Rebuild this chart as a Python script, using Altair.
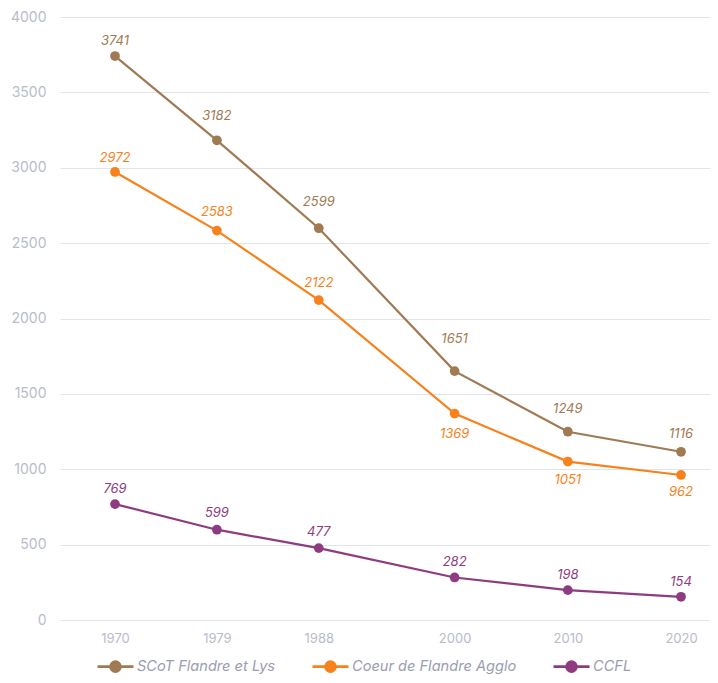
import altair as alt
import pandas as pd

years = [1970, 1979, 1988, 2000, 2010, 2020]
series = ["SCoT Flandre et Lys", "Coeur de Flandre Agglo", "CCFL"]
colors = ["#a07a52", "#f7821b", "#8e3b80"]
scot = [3741, 3182, 2599, 1651, 1249, 1116]
cfa = [2972, 2583, 2122, 1369, 1051, 962]
ccfl = [769, 599, 477, 282, 198, 154]

# vertical offset (px) of each value label from its point
label_dy = {
    series[0]: [-15, -24, -26, -32, -23, -18],
    series[1]: [-14, -19, -17, 20, 18, 17],
    series[2]: [-15, -17, -16, -15, -15, -15],
}

rows = []
for name, vals in [(series[0], scot), (series[1], cfa), (series[2], ccfl)]:
    for y, v, d in zip(years, vals, label_dy[name]):
        rows.append({"year": y, "value": v, "serie": name, "ldy": d})
df = pd.DataFrame(rows)

FONT = "Inter"
cscale = alt.Scale(domain=series, range=colors)
color = alt.Color(
    "serie:N",
    scale=cscale,
    sort=series,
    legend=alt.Legend(
        title=None,
        orient="none",
        legendX=44,
        legendY=638,
        direction="horizontal",
        symbolType="M -1.8 0 L 1.8 0 M -0.5 0 A 0.5 0.5 0 1 1 0.5 0 A 0.5 0.5 0 1 1 -0.5 0 Z",
        symbolSize=400,
        symbolStrokeWidth=2.6,
        labelFont=FONT,
        labelFontStyle="italic",
        labelFontSize=14.6,
        labelColor="#9a9db0",
        labelOffset=10,
        labelLimit=300,
        columnPadding=31,
    ),
)

x = alt.X(
    "year:Q",
    scale=alt.Scale(domain=[1965.14, 2022.56], nice=False, zero=False),
    axis=alt.Axis(
        values=years, format="d", title=None, grid=False, domain=False, ticks=False,
        labelFont=FONT, labelFontSize=13, labelColor="#b8bccb", labelPadding=12,
    ),
)
y = alt.Y(
    "value:Q",
    scale=alt.Scale(domain=[0, 4000], nice=False),
    axis=alt.Axis(
        values=list(range(0, 4001, 500)), format="d", title=None, domain=False, ticks=False,
        gridColor="#e3e4ea", gridWidth=1,
        labelFont=FONT, labelFontSize=14, labelColor="#b8bccb", labelPadding=14,
    ),
)

base = alt.Chart(df)
nolegend = alt.Color("serie:N", scale=cscale, legend=None)
lines = base.mark_line(strokeWidth=2.2).encode(x=x, y=y, color=color)
points = base.mark_circle(size=95, opacity=1).encode(x=x, y=y, color=nolegend)

label_layers = []
for d in sorted(df["ldy"].unique()):
    label_layers.append(
        base.transform_filter(alt.datum.ldy == int(d))
        .mark_text(font=FONT, fontStyle="italic", fontSize=13, dy=int(d))
        .encode(x=x, y=y, text="value:Q", color=nolegend)
    )

chart = (
    alt.layer(lines, points, *label_layers)
    .properties(
        width=650, height=603,
        autosize=alt.AutoSizeParams(type="none"),
        padding={"left": 52, "top": 9, "right": 0, "bottom": 55},
    )
    .configure_view(stroke=None)
)

chart.save("out.html", embed_options={"renderer": "svg", "actions": False})
